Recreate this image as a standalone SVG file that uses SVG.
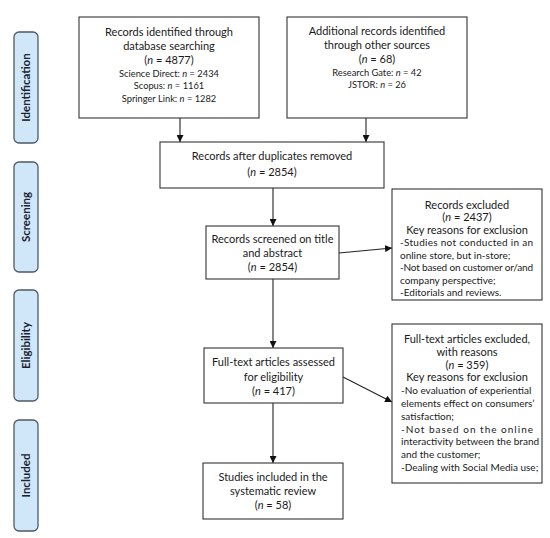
<svg xmlns="http://www.w3.org/2000/svg" width="550" height="538" viewBox="0 0 550 538">
<style>
.bg{fill:#ffffff}
.box{fill:#ffffff;stroke:#333333;stroke-width:1.1}
.phase{fill:#cfe7f9;stroke:#4d5966;stroke-width:1.3}
.pt{font-family:Lato,"Open Sans",sans-serif;font-weight:bold;font-size:11.5px;fill:#1b2430;text-anchor:middle}
.t{font-family:Lato,"Open Sans",sans-serif;font-size:11px;fill:#1a1a1a;text-anchor:middle}
.s{font-family:Lato,"Open Sans",sans-serif;font-size:9.3px;fill:#1a1a1a;text-anchor:middle}
.l{font-family:Lato,"Open Sans",sans-serif;font-size:10px;fill:#1a1a1a;text-anchor:start}
.i{font-style:italic}
.c{stroke:#222222;stroke-width:1.1;fill:none;marker-end:url(#ah)}
</style>
<defs>
<marker id="ah" viewBox="0 0 10 10" refX="10" refY="5" markerWidth="7" markerHeight="7" markerUnits="userSpaceOnUse" orient="auto">
<path d="M0,0 L10,5 L0,10 z" fill="#111111"/>
</marker>
</defs>
<rect class="bg" x="0" y="0" width="550" height="538"/>

<g id="phase-identification">
<rect class="phase" x="14" y="32" width="24" height="111" rx="5"/>
<text class="pt" transform="translate(30,87.5) rotate(-90)">Identification</text>
</g>
<g id="phase-screening">
<rect class="phase" x="14" y="162" width="24" height="110" rx="5"/>
<text class="pt" transform="translate(30,217) rotate(-90)">Screening</text>
</g>
<g id="phase-eligibility">
<rect class="phase" x="14" y="290" width="24" height="111" rx="5"/>
<text class="pt" transform="translate(30,345.5) rotate(-90)">Eligibility</text>
</g>
<g id="phase-included">
<rect class="phase" x="14" y="420" width="24" height="111" rx="5"/>
<text class="pt" transform="translate(30,475.5) rotate(-90)">Included</text>
</g>

<g id="connectors">
<line class="c" x1="180" y1="118" x2="180" y2="142"/>
<line class="c" x1="366" y1="118" x2="366" y2="142"/>
<line class="c" x1="273" y1="188" x2="273" y2="226"/>
<line class="c" x1="339" y1="253" x2="392" y2="248"/>
<line class="c" x1="273" y1="279" x2="273" y2="348"/>
<line class="c" x1="343" y1="377" x2="392" y2="402"/>
<line class="c" x1="273" y1="403" x2="273" y2="463"/>
</g>

<g id="node-database">
<rect class="box" x="79" y="17" width="180" height="101"/>
<text class="t" x="169" y="36">Records identified through</text>
<text class="t" x="169" y="50">database searching</text>
<text class="t" x="169" y="64">(<tspan class="i">n</tspan> = 4877)</text>
<text class="s" x="169" y="76.5">Science Direct: <tspan class="i">n</tspan> = 2434</text>
<text class="s" x="169" y="89">Scopus: <tspan class="i">n</tspan> = 1161</text>
<text class="s" x="169" y="101.5">Springer Link: <tspan class="i">n</tspan> = 1282</text>
</g>

<g id="node-other">
<rect class="box" x="287" y="17" width="180" height="101"/>
<text class="t" x="377" y="35">Additional records identified</text>
<text class="t" x="377" y="49">through other sources</text>
<text class="t" x="377" y="63">(<tspan class="i">n</tspan> = 68)</text>
<text class="s" x="377" y="75.5">Research Gate: <tspan class="i">n</tspan> = 42</text>
<text class="s" x="377" y="88">JSTOR: <tspan class="i">n</tspan> = 26</text>
</g>

<g id="node-duplicates">
<rect class="box" x="160" y="142" width="224" height="46"/>
<text class="t" x="272" y="160">Records after duplicates removed</text>
<text class="t" x="272" y="176">(<tspan class="i">n</tspan> = 2854)</text>
</g>

<g id="node-screened">
<rect class="box" x="206" y="226" width="133" height="53"/>
<text class="t" x="272.5" y="243">Records screened on title</text>
<text class="t" x="272.5" y="257">and abstract</text>
<text class="t" x="272.5" y="271">(<tspan class="i">n</tspan> = 2854)</text>
</g>

<g id="node-excluded">
<rect class="box" x="392" y="189" width="150" height="111"/>
<text class="t" x="467" y="208.5">Records excluded</text>
<text class="t" x="467" y="221">(<tspan class="i">n</tspan> = 2437)</text>
<text class="t" x="467" y="233.5">Key reasons for exclusion</text>
<text class="l" x="400" y="246" textLength="133" lengthAdjust="spacing">-Studies not conducted in an</text>
<text class="l" x="400" y="258.5">online store, but in-store;</text>
<text class="l" x="400" y="271" textLength="133" lengthAdjust="spacing">-Not based on customer or/and</text>
<text class="l" x="400" y="283.5">company perspective;</text>
<text class="l" x="400" y="296">-Editorials and reviews.</text>
</g>

<g id="node-fulltext">
<rect class="box" x="204" y="348" width="139" height="55"/>
<text class="t" x="273.5" y="366">Full-text articles assessed</text>
<text class="t" x="273.5" y="381">for eligibility</text>
<text class="t" x="273.5" y="395">(<tspan class="i">n</tspan> = 417)</text>
</g>

<g id="node-fulltext-excluded">
<rect class="box" x="392" y="324" width="150" height="159"/>
<text class="t" x="467" y="343">Full-text articles excluded,</text>
<text class="t" x="467" y="355.8">with reasons</text>
<text class="t" x="467" y="368.6">(<tspan class="i">n</tspan> = 359)</text>
<text class="t" x="467" y="381.4">Key reasons for exclusion</text>
<text class="l" x="401" y="394.2">-No evaluation of experiential</text>
<text class="l" x="401" y="407">elements effect on consumers’</text>
<text class="l" x="401" y="419.8">satisfaction;</text>
<text class="l" x="401" y="432.6" textLength="132" lengthAdjust="spacing">-Not based on the online</text>
<text class="l" x="401" y="445.4">interactivity between the brand</text>
<text class="l" x="401" y="458.2">and the customer;</text>
<text class="l" x="401" y="471">-Dealing with Social Media use;</text>
</g>

<g id="node-included">
<rect class="box" x="203" y="463" width="140" height="56"/>
<text class="t" x="273" y="481">Studies included in the</text>
<text class="t" x="273" y="495">systematic review</text>
<text class="t" x="273" y="509">(<tspan class="i">n</tspan> = 58)</text>
</g>
</svg>
